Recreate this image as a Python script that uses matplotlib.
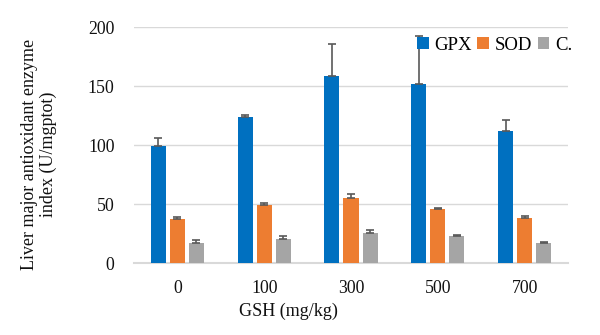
import numpy as np
import matplotlib
matplotlib.use("Agg")
import matplotlib.pyplot as plt

# data
doses = ["0", "100", "300", "500", "700"]
gpx = [99, 123.5, 158.5, 152, 112]
gpx_err = [7, 2, 27.5, 40, 9.5]
sod = [37.3, 49, 55.3, 45.7, 38]
sod_err = [1.8, 2, 3.3, 1, 2.2]
cat = [17.2, 20.2, 25.6, 23, 17.2]
cat_err = [2.2, 2.5, 2.2, 1, 0.7]

colors = ["#0070C0", "#ED7D31", "#A5A5A5"]

plt.rcParams["font.family"] = ["Liberation Serif", "DejaVu Serif"]

fig = plt.figure(figsize=(6.0, 3.35), dpi=100)
ax = fig.add_axes([0.2233, 0.2149, 0.7234, 0.7045])

x = np.arange(len(doses))
w = 0.173
off = 0.219
err_kw = dict(ecolor="#595959", elinewidth=1.2, capsize=3, capthick=1.2)
series = [(gpx, gpx_err, "GPX"), (sod, sod_err, "SOD"), (cat, cat_err, "C.")]
for i, (vals, errs, name) in enumerate(series):
    # only the upper half of the error bar is shown
    yerr = [np.zeros(len(errs)), errs]
    ax.bar(x + (i - 1) * off, vals, w, yerr=yerr, color=colors[i],
           label=name, error_kw=err_kw, zorder=3)

ax.set_xlim(-0.5, len(doses) - 0.5)
ax.set_ylim(0, 200)
ax.set_yticks([0, 50, 100, 150, 200])
ax.set_xticks(x)
ax.set_xticklabels(doses)
ax.tick_params(axis="both", length=0, labelsize=12.8, colors="#111111")
ax.tick_params(axis="y", pad=14)
ax.tick_params(axis="x", pad=12)

ax.grid(axis="y", color="#D9D9D9", linewidth=1.0, zorder=0)
for s in ["top", "right", "left"]:
    ax.spines[s].set_visible(False)
ax.spines["bottom"].set_color("#D9D9D9")
ax.spines["bottom"].set_linewidth(1.5)

fig.text(0.48, 0.072, "GSH (mg/kg)", fontsize=13, ha="center",
         va="center", color="#111111")
fig.text(0.065, 0.54, "Liver major antioxidant enzyme\nindex (U/mgptot)",
         fontsize=13, rotation=90, ha="center", va="center",
         multialignment="center", color="#111111", linespacing=1.15)

leg = ax.legend(loc="upper left", bbox_to_anchor=(0.652, 0.958), ncol=3,
                frameon=False, fontsize=13.5, handlelength=0.62,
                handleheight=0.62, handletextpad=0.3, columnspacing=0.3,
                borderaxespad=0.0, borderpad=0.0)
leg.set_zorder(10)

fig.savefig("out.png", dpi=100)
